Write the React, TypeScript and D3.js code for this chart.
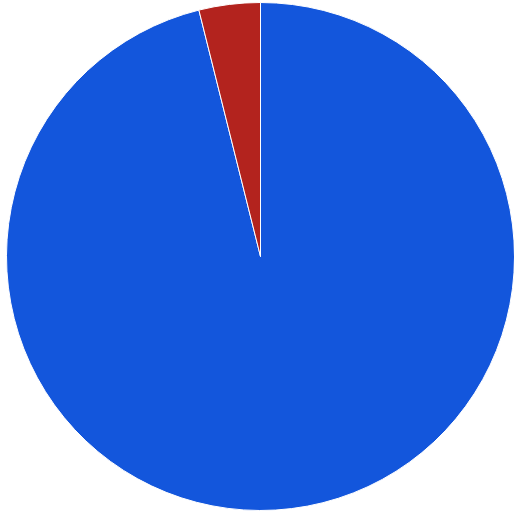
import React from "react";
import * as d3 from "d3";

const labels = ["A", "B"];
const values = [96.1, 3.9];
const colors = ["#1356dc", "#b3231e"];

export default function App() {
  const width = 514;
  const height = 515;
  const cx = 260.5;
  const cy = 256.5;
  const r = 254;
  const pie = d3.pie<number>().sort(null).value((d) => d);
  const arcs = pie(values);
  const arc = d3.arc<d3.PieArcDatum<number>>().innerRadius(0).outerRadius(r);
  return (
    <svg
      width={width}
      height={height}
      style={{ position: "absolute", left: 0, top: 0 }}
    >
      <g transform={`translate(${cx},${cy})`}>
        {arcs.map((a, i) => (
          <path
            key={labels[i]}
            d={arc(a) || ""}
            fill={colors[i]}
            stroke="#ffffff"
            strokeWidth={1}
          />
        ))}
      </g>
    </svg>
  );
}
